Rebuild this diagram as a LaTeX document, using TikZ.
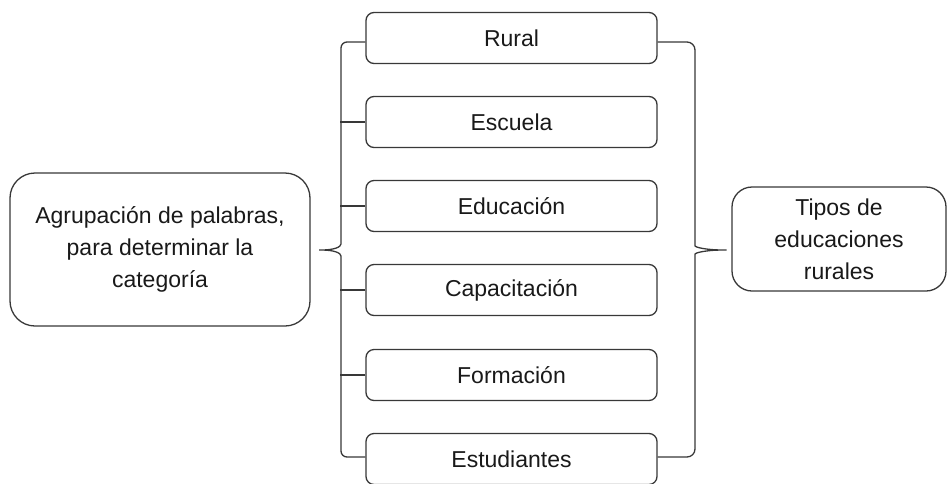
\documentclass[tikz,border=0pt]{standalone}
\usepackage{fontspec}
\setmainfont{Liberation Sans}
\usetikzlibrary{calc}
\begin{document}
\begin{tikzpicture}[x=1pt,y=-1pt,
  line/.style={draw=black!78, line width=1.3pt},
  item/.style={line, rounded corners=8pt, minimum width=291pt, minimum height=51pt, inner sep=0pt, text=black!90, font=\fontsize{23}{28}\selectfont},
  big/.style={line, align=center, inner sep=0pt, text=black!90, font=\fontsize{23}{32}\selectfont}]
\useasboundingbox (0,0) rectangle (950,483);
\node[item] (rural) at (511.5,38) {Rural};
\node[item] (escuela) at (511.5,122) {Escuela};
\node[item] (educ) at (511.5,206) {Educación};
\node[item] (capac) at (511.5,290) {Capacitación};
\node[item] (form) at (511.5,375) {Formación};
\node[item] (estud) at (511.5,459) {Estudiantes};
\node[big, rounded corners=25pt, minimum width=300pt, minimum height=153pt] (grp) at (160,249.5) {Agrupación de palabras,\\para determinar la\\categoría};
\node[big, rounded corners=20pt, minimum width=214pt, minimum height=104pt] (tipos) at (839,239) {Tipos de\\educaciones\\rurales};
\coordinate (ltip) at ($(grp.east)+(5,0.5)$);
\coordinate (rtip) at ($(tipos.west)+(0,11)$);
% left brace
\draw[line, rounded corners=6pt] ($(rural.west)+(0,4)$) -| (341,150)
  -- (341,238) .. controls (341,247) and (334,250) .. (ltip)
  .. controls (334,250) and (341,253) .. (341,262)
  -- (341,400) |- ($(estud.west)+(0,-2)$);
\draw[line] (escuela.west) -- ++(-25,0);
\draw[line] (educ.west) -- ++(-25,0);
\draw[line] (capac.west) -- ++(-25,0);
\draw[line] (form.west) -- ++(-25,0);
% right brace
\draw[line, rounded corners=8pt] ($(rural.east)+(0,4)$) -| (695,150)
  -- (695,238) .. controls (695,247) and (705,250) .. (rtip)
  .. controls (705,250) and (695,253) .. (695,262)
  -- (695,400) |- ($(estud.east)+(0,-2)$);
\end{tikzpicture}
\end{document}
